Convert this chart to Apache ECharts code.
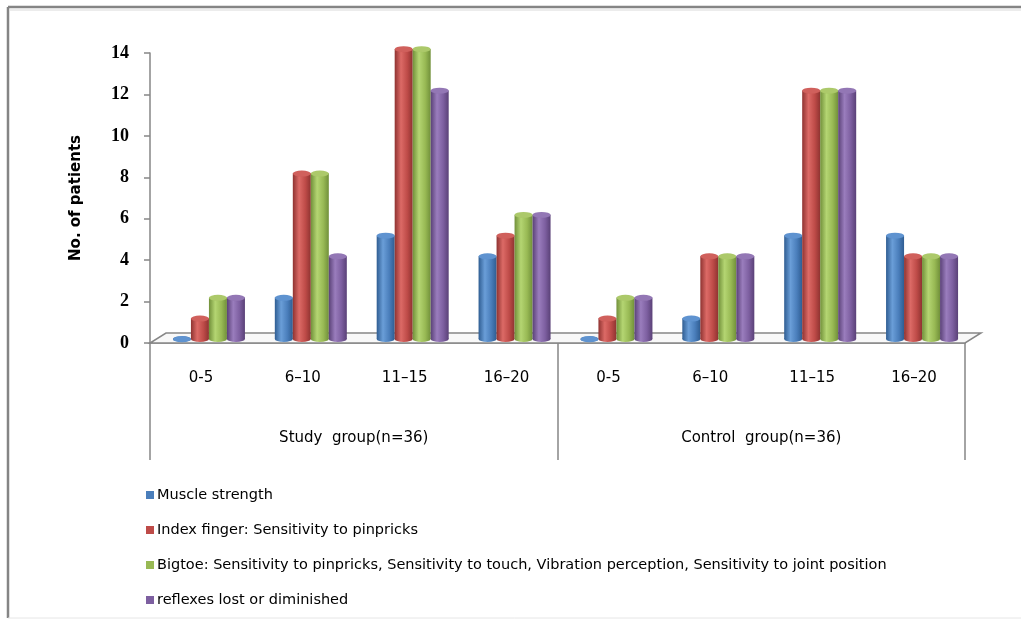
<!DOCTYPE html>
<html>
<head>
<meta charset="utf-8">
<script src="https://cdn.jsdelivr.net/npm/echarts@6/dist/echarts.min.js"></script>
<style>
  html, body { margin: 0; padding: 0; background: #fff; }
  #chart { width: 1021px; height: 622px; }
</style>
</head>
<body>
<div id="chart"></div>
<script>
// ---- data ----
const ageBands = ['0-5', '6–10', '11–15', '16–20', '0-5', '6–10', '11–15', '16–20'];
const groupLabels = ['Study  group(n=36)', 'Control  group(n=36)'];
const seriesNames = [
  'Muscle strength',
  'Index finger: Sensitivity to pinpricks',
  'Bigtoe: Sensitivity to pinpricks, Sensitivity to touch, Vibration perception, Sensitivity to joint position',
  'reflexes lost or diminished'
];
const muscleStrength = [0, 2, 5, 4, 0, 1, 5, 5];
const indexFinger    = [1, 8, 14, 5, 1, 4, 12, 4];
const bigToe         = [2, 8, 14, 6, 2, 4, 12, 4];
const reflexes       = [2, 4, 12, 6, 2, 4, 12, 4];
const yMin = 0, yMax = 14, yStep = 2;

// ---- styling ----
const palette = [
  { base: '#4a7ebb', light: '#6a9ed8', dark: '#2f5d92', cap: '#5f93d0' },
  { base: '#be4b48', light: '#dc6a66', dark: '#8f3331', cap: '#d0605c' },
  { base: '#98b954', light: '#b4d572', dark: '#71903a', cap: '#acc96a' },
  { base: '#7d5fa0', light: '#9a7dbd', dark: '#5a4177', cap: '#9377b5' }
];
const axisGrey = '#868686';
const barWidth = 18;
const textFont = '"DejaVu Sans", "Liberation Sans", sans-serif';

// plot rectangles: the axes sit on the front edge of the floor,
// the cylinders stand a little deeper inside it
const AXIS_GRID = { left: 150, right: 56, top: 53, bottom: 279 };
const BAR_GRID  = { left: 158, right: 48, top: 49, bottom: 283 };
const DEPTH = { dx: 16, dy: -10 };

const W = 1021, H = 622;
const values = [muscleStrength, indexFinger, bigToe, reflexes];

function cylinderFill(c) {
  return new echarts.graphic.LinearGradient(0, 0, 1, 0, [
    { offset: 0, color: c.dark },
    { offset: 0.35, color: c.light },
    { offset: 0.7, color: c.base },
    { offset: 1, color: c.dark }
  ]);
}

const series = [];
values.forEach((vals, i) => {
  const c = palette[i];
  const shift = (i - 1.5) * barWidth;
  series.push({
    name: seriesNames[i],
    type: 'bar',
    xAxisIndex: 2, yAxisIndex: 1,
    data: vals,
    barWidth: barWidth,
    barGap: '0%',
    z: 3,
    itemStyle: { color: cylinderFill(c) }
  });
  // rounded foot of the cylinder
  series.push({
    name: seriesNames[i],
    type: 'pictorialBar',
    xAxisIndex: 2, yAxisIndex: 1,
    data: vals,
    symbol: 'circle',
    symbolSize: [barWidth, 6],
    symbolPosition: 'start',
    symbolOffset: [shift, '50%'],
    z: 2,
    itemStyle: { color: cylinderFill(c) }
  });
  // top face of the cylinder
  series.push({
    name: seriesNames[i],
    type: 'pictorialBar',
    xAxisIndex: 2, yAxisIndex: 1,
    data: vals,
    symbol: 'circle',
    symbolSize: [barWidth, 6],
    symbolPosition: 'end',
    symbolOffset: [shift, '-50%'],
    z: 4,
    itemStyle: { color: c.cap, borderColor: c.dark, borderWidth: 0.8 }
  });
});

// floor of the plot, drawn as a shallow parallelogram
const fx0 = AXIS_GRID.left, fx1 = W - AXIS_GRID.right, fy = H - AXIS_GRID.bottom;
const floor = {
  type: 'polygon',
  z: 1,
  shape: { points: [[fx0, fy], [fx1, fy], [fx1 + DEPTH.dx, fy + DEPTH.dy], [fx0 + DEPTH.dx, fy + DEPTH.dy]] },
  style: { fill: '#f8f8f8', stroke: axisGrey, lineWidth: 1.5 }
};

const frame = [
  { type: 'line', z: 0, shape: { x1: 8, y1: 7, x2: W, y2: 7 }, style: { stroke: '#858585', lineWidth: 2.5 } },
  { type: 'line', z: 0, shape: { x1: 8, y1: 7, x2: 8, y2: 618 }, style: { stroke: '#858585', lineWidth: 2.5 } },
  { type: 'line', z: 0, shape: { x1: 10, y1: 10, x2: W, y2: 10 }, style: { stroke: '#ececec', lineWidth: 2 } },
  { type: 'line', z: 0, shape: { x1: 8, y1: 618, x2: W, y2: 618 }, style: { stroke: '#e6e6e6', lineWidth: 1 } }
];

const chart = echarts.init(document.getElementById('chart'), null, { renderer: 'canvas' });
chart.setOption({
  backgroundColor: '#ffffff',
  animation: false,
  grid: [
    Object.assign({ containLabel: false }, AXIS_GRID),
    Object.assign({ containLabel: false }, BAR_GRID)
  ],
  legend: {
    orient: 'vertical',
    left: 141, top: 482,
    itemWidth: 8, itemHeight: 8, itemGap: 19,
    icon: 'rect',
    selectedMode: false,
    textStyle: { fontFamily: textFont, fontSize: 14.5, color: '#000', lineHeight: 16, padding: [0, 0, 0, -2] },
    data: seriesNames.map((n, i) => ({ name: n, itemStyle: { color: palette[i].base } }))
  },
  xAxis: [
    {
      type: 'category', gridIndex: 0, data: ageBands,
      axisLine: { show: true, lineStyle: { color: axisGrey, width: 1.5 } },
      axisTick: { show: false },
      axisLabel: { interval: 0, margin: 28, color: '#000', fontFamily: textFont, fontSize: 15 }
    },
    {
      type: 'category', gridIndex: 0, data: groupLabels, position: 'bottom',
      axisLine: { show: false },
      axisTick: { show: true, interval: 0, length: 117, lineStyle: { color: axisGrey, width: 1.5 } },
      axisLabel: { interval: 0, margin: 88, color: '#000', fontFamily: textFont, fontSize: 15 }
    },
    { type: 'category', gridIndex: 1, data: ageBands, show: false }
  ],
  yAxis: [
    {
      type: 'value', gridIndex: 0, min: yMin, max: yMax, interval: yStep,
      name: 'No. of patients', nameLocation: 'middle', nameGap: 66,
      nameTextStyle: { fontFamily: textFont, fontWeight: 'bold', fontSize: 15, color: '#000' },
      axisLine: { show: true, lineStyle: { color: axisGrey, width: 1.5 } },
      axisTick: { show: true, length: 6, lineStyle: { color: axisGrey, width: 1.5 } },
      splitLine: { show: false },
      axisLabel: { margin: 21, color: '#000', fontFamily: 'Liberation Serif', fontWeight: 'bold', fontSize: 18 }
    },
    { type: 'value', gridIndex: 1, min: yMin, max: yMax, interval: yStep, show: false }
  ],
  graphic: { elements: frame.concat([floor]) },
  series: series
});
</script>
</body>
</html>
